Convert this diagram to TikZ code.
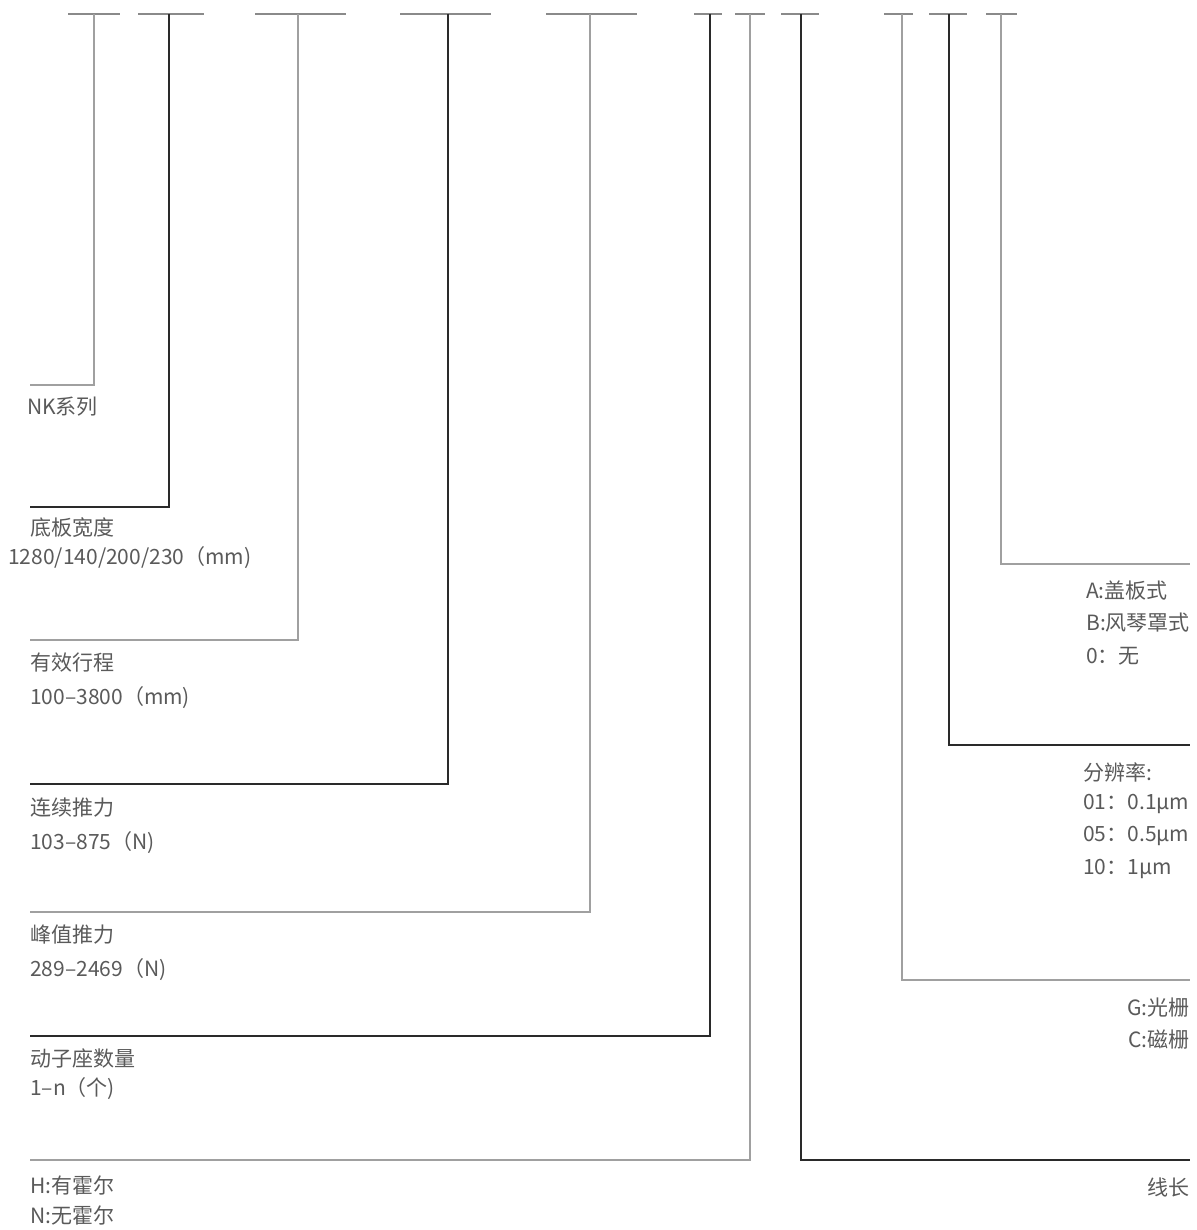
\documentclass[tikz,border=0pt]{standalone}
\usepackage{fontspec}
\setmainfont{Noto Sans CJK SC}
\definecolor{thincol}{HTML}{A0A0A0}
\definecolor{thickcol}{HTML}{2A2A2A}
\definecolor{barcol}{HTML}{8A8A8A}
\definecolor{txtcol}{HTML}{5A5A5A}
\begin{document}
\begin{tikzpicture}[x=1pt,y=-1pt,
  thinln/.style={draw=thincol,line width=1.3pt,line join=miter},
  thickln/.style={draw=thickcol,line width=2.8pt,line join=miter},
  barln/.style={draw=barcol,line width=1.6pt},
  lbl/.style={text=txtcol,font=\fontsize{21}{24}\selectfont,inner sep=0pt,anchor=west},
  rlbl/.style={lbl,anchor=east}]
\useasboundingbox[fill=white] (0,0) rectangle (1196,1230);
% bars: name / left / right / vertical x / corner y / end x / style
\foreach \n/\l/\r/\vx/\cy/\ex/\st in {
  a/68/120/94/385/30/thinln,
  b/138/204/169/507/30/thickln,
  c/255/346/298/640/30/thinln,
  d/400/491/448/784/30/thickln,
  e/546/637/590/912/30/thinln,
  f/694/722/710/1036/30/thickln,
  g/735/765/750/1160/30/thinln,
  h/781/819/801/1160/1190/thickln,
  i/884/913/902/980/1190/thinln,
  j/929/967/949/745/1190/thickln,
  k/986/1017/1001/564/1190/thinln}{
  \coordinate (\n L) at (\l,14);
  \coordinate (\n R) at (\r,14);
  \coordinate (\n T) at (\vx,14);
  \coordinate (\n C) at (\vx,\cy);
  \coordinate (\n E) at (\ex,\cy);
  \draw[barln] (\n L) -- (\n R);
  \draw[\st] (\n T) -- (\n C) -- (\n E);
}
% left labels
\node[lbl] (t1) at (27,407) {NK系列};
\node[lbl] (t2) at (30,528) {底板宽度};
\node[lbl] (t2b) at (8,558) {1280/140/200/230（mm)};
\node[lbl] (t3) at (30,663) {有效行程};
\node[lbl] (t3b) at (30,698) {100–3800（mm)};
\node[lbl] (t4) at (30,808) {连续推力};
\node[lbl] (t4b) at (30,843) {103–875（N)};
\node[lbl] (t5) at (30,935) {峰值推力};
\node[lbl] (t5b) at (30,970) {289–2469（N)};
\node[lbl] (t6) at (30,1058) {动子座数量};
\node[lbl] (t6b) at (30,1089) {1–n（个)};
\node[lbl] (t7) at (30,1185) {H:有霍尔};
\node[lbl] (t7b) at (30,1215) {N:无霍尔};
% right labels
\node[lbl] (r1) at (1086,591) {A:盖板式};
\node[lbl] (r1b) at (1086,623) {B:风琴罩式};
\node[lbl] (r1c) at (1086,656) {0：无};
\node[lbl] (r2) at (1083,772) {分辨率:};
\node[lbl] (r2b) at (1083,804) {01：0.1μm};
\node[lbl] (r2c) at (1083,836) {05：0.5μm};
\node[lbl] (r2d) at (1083,869) {10：1μm};
\node[rlbl] (r3) at (1190,1008) {G:光栅};
\node[rlbl] (r3b) at (1190,1040) {C:磁栅};
\node[rlbl] (r4) at (1190,1187) {线长};
\end{tikzpicture}
\end{document}
